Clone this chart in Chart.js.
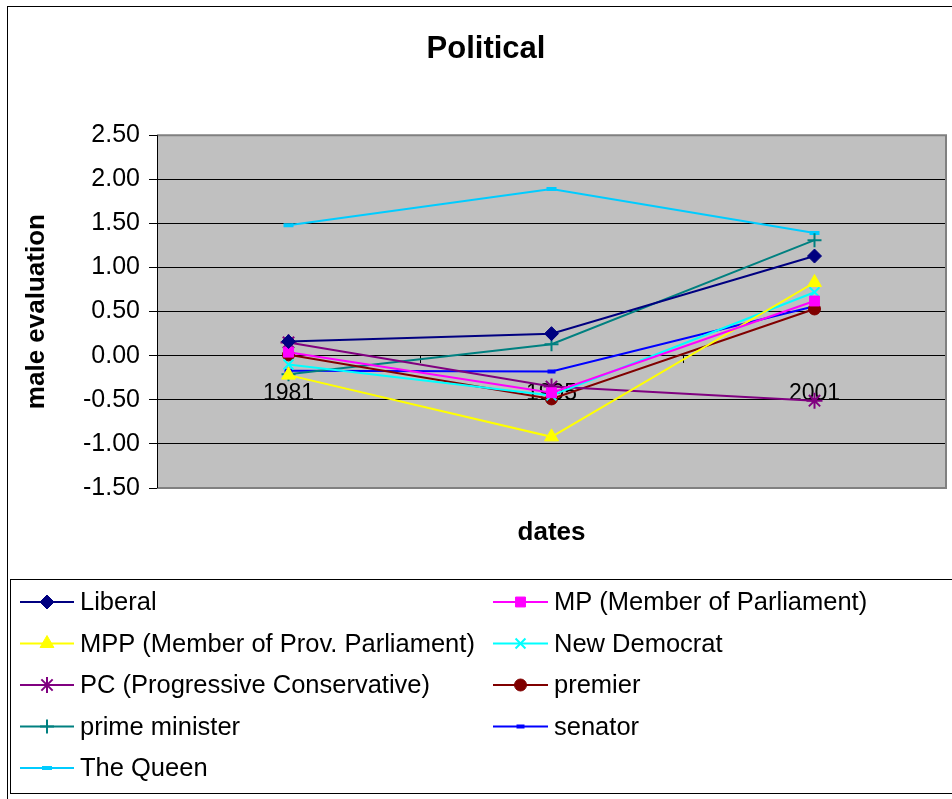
<!DOCTYPE html>
<html>
<head>
<meta charset="utf-8">
<script src="https://cdn.jsdelivr.net/npm/chart.js@4.4.1/dist/chart.umd.min.js"></script>
<style>
  html, body { margin: 0; padding: 0; background: #fff; overflow: hidden; }
  #wrap { position: relative; width: 952px; height: 799px; }
  #chart { display: block; }
</style>
</head>
<body>
<div id="wrap"><canvas id="chart"></canvas></div>
<script>
// Survey years on the category axis
const dates = ['1981', '1995', '2001'];

// Mean male evaluation per political role, one value per survey year
const liberal       = [0.16, 0.25, 1.13];
const mp            = [0.04, -0.42, 0.62];
const mpp           = [-0.22, -0.92, 0.83];
const newDemocrat   = [-0.10, -0.45, 0.72];
const pc            = [0.15, -0.35, -0.51];
const premier       = [0.01, -0.49, 0.53];
const primeMinister = [-0.21, 0.13, 1.31];
const senator       = [-0.17, -0.18, 0.56];
const theQueen      = [1.48, 1.89, 1.39];

// Value axis ticks
const yMin = -1.5, yMax = 2.5, yStep = 0.5;

const FONT = '"Liberation Sans", Arial, sans-serif';

function series(label, data, color, pointStyle, radius, extra) {
  return Object.assign({
    label, data,
    borderColor: color,
    backgroundColor: color,
    pointBackgroundColor: color,
    pointBorderColor: color,
    borderWidth: 2,
    pointStyle,
    pointRadius: radius,
    pointHoverRadius: radius,
    pointBorderWidth: 1,
    tension: 0,
    fill: false
  }, extra || {});
}

const datasets = [
  series('Liberal', liberal, '#000080', 'rectRot', 7),
  series('MP (Member of Parliament)', mp, '#FF00FF', 'rect', 7),
  series('MPP (Member of Prov. Parliament)', mpp, '#FFFF00', 'triangle', 8),
  series('New Democrat', newDemocrat, '#00FFFF', 'crossRot', 7, { pointBorderWidth: 2 }),
  series('PC (Progressive Conservative)', pc, '#800080', 'star', 8, { pointBorderWidth: 2 }),
  series('premier', premier, '#800000', 'circle', 6),
  series('prime minister', primeMinister, '#008080', 'cross', 7, { pointBorderWidth: 2 }),
  series('senator', senator, '#0000FF', 'line', 4, { pointBorderWidth: 4 }),
  series('The Queen', theQueen, '#00CCFF', 'line', 5, { pointBorderWidth: 4 })
];

// Grey plot background and frame
const plotBackground = {
  id: 'plotBackground',
  afterLayout(chart) {
    // nudge the chart title a little to the right of the canvas centre
    if (chart.titleBlock) {
      chart.titleBlock.left += 8;
      chart.titleBlock.right += 8;
    }
  },
  beforeDraw(chart) {
    const { ctx, chartArea: a } = chart;
    ctx.save();
    ctx.fillStyle = '#C0C0C0';
    ctx.fillRect(a.left, a.top, a.right - a.left, a.bottom - a.top);
    ctx.restore();
  },
  beforeDatasetsDraw(chart) {
    const { ctx, chartArea: a } = chart;
    ctx.save();
    ctx.strokeStyle = '#808080';
    ctx.lineWidth = 2;
    ctx.beginPath();
    ctx.moveTo(a.left, a.top);
    ctx.lineTo(a.right, a.top);
    ctx.lineTo(a.right, a.bottom);
    ctx.lineTo(a.left, a.bottom);
    ctx.stroke();
    ctx.strokeStyle = '#000';
    ctx.lineWidth = 1;
    ctx.beginPath();
    ctx.moveTo(a.left + 0.5, a.top);
    ctx.lineTo(a.left + 0.5, a.bottom);
    ctx.stroke();
    ctx.restore();
  }
};

// Boxed two-column legend with line + marker samples, plus the outer frame
const boxedLegend = {
  id: 'boxedLegend',
  afterDraw(chart) {
    const { ctx } = chart;
    ctx.save();
    ctx.strokeStyle = '#000';
    ctx.lineWidth = 1;
    ctx.strokeRect(7.5, 6.5, 1000, 1000);
    ctx.strokeRect(10.5, 579.5, 1000, 214);

    const cols = [{ x0: 20, x1: 74, tx: 80 }, { x0: 493, x1: 548, tx: 554 }];
    const rowTop = 602, rowGap = 41.5;
    ctx.font = '25.5px ' + FONT;
    ctx.textBaseline = 'middle';
    ctx.textAlign = 'left';
    chart.data.datasets.forEach((ds, i) => {
      const c = cols[i % 2];
      const y = rowTop + Math.floor(i / 2) * rowGap;
      ctx.strokeStyle = ds.borderColor;
      ctx.lineWidth = 2;
      ctx.beginPath();
      ctx.moveTo(c.x0, y);
      ctx.lineTo(c.x1, y);
      ctx.stroke();
      ctx.fillStyle = ds.pointBackgroundColor;
      ctx.strokeStyle = ds.pointBorderColor;
      ctx.lineWidth = ds.pointBorderWidth;
      Chart.helpers.drawPoint(ctx, {
        pointStyle: ds.pointStyle,
        radius: ds.pointRadius,
        rotation: 0,
        borderWidth: ds.pointBorderWidth
      }, (c.x0 + c.x1) / 2, y);
      ctx.fillStyle = '#000';
      ctx.fillText(ds.label, c.tx, y + 1);
    });
    ctx.restore();
  }
};

new Chart(document.getElementById('chart'), {
  type: 'line',
  data: { labels: dates, datasets },
  options: {
    responsive: true,
    maintainAspectRatio: false,
    animation: false,
    events: [],
    layout: { autoPadding: false, padding: { left: 10, right: 6, top: 0, bottom: 220 } },
    plugins: {
      legend: { display: false },
      tooltip: { enabled: false },
      title: {
        display: true,
        text: 'Political',
        color: '#000',
        font: { family: FONT, size: 31, weight: 'bold' },
        padding: { top: 31, bottom: 67 }
      }
    },
    scales: {
      x: {
        type: 'category',
        offset: true,
        position: { y: 0 },
        afterFit(s) { s.height = 0; s.paddingLeft = 0; s.paddingRight = 0; },
        border: { display: false },
        grid: { drawOnChartArea: false, offset: true, color: '#000', tickLength: 7, tickColor: '#000' },
        ticks: { color: '#000', font: { family: FONT, size: 23 }, padding: 17, maxRotation: 0 }
      },
      xTitle: {
        type: 'category',
        axis: 'x',
        offset: true,
        position: 'bottom',
        afterFit(s) { s.height = 91; s.paddingLeft = 0; s.paddingRight = 0; },
        border: { display: false },
        grid: { display: false },
        ticks: { display: false },
        title: {
          display: true,
          text: 'dates',
          color: '#000',
          font: { family: FONT, size: 26, weight: 'bold' },
          padding: { top: 0, bottom: 31 }
        }
      },
      y: {
        min: yMin,
        max: yMax,
        afterFit(s) { s.width = 147; },
        border: { display: true, color: '#000', width: 1 },
        grid: { color: '#000', lineWidth: 1, tickLength: 8, tickColor: '#000' },
        ticks: {
          stepSize: yStep,
          color: '#000',
          padding: 9,
          font: { family: FONT, size: 25 },
          callback: v => Number(v).toFixed(2)
        },
        title: {
          display: true,
          text: 'male evaluation',
          color: '#000',
          font: { family: FONT, size: 26, weight: 'bold' },
          padding: { top: 11, bottom: 0 }
        }
      }
    }
  },
  plugins: [plotBackground, boxedLegend]
});
</script>
</body>
</html>
